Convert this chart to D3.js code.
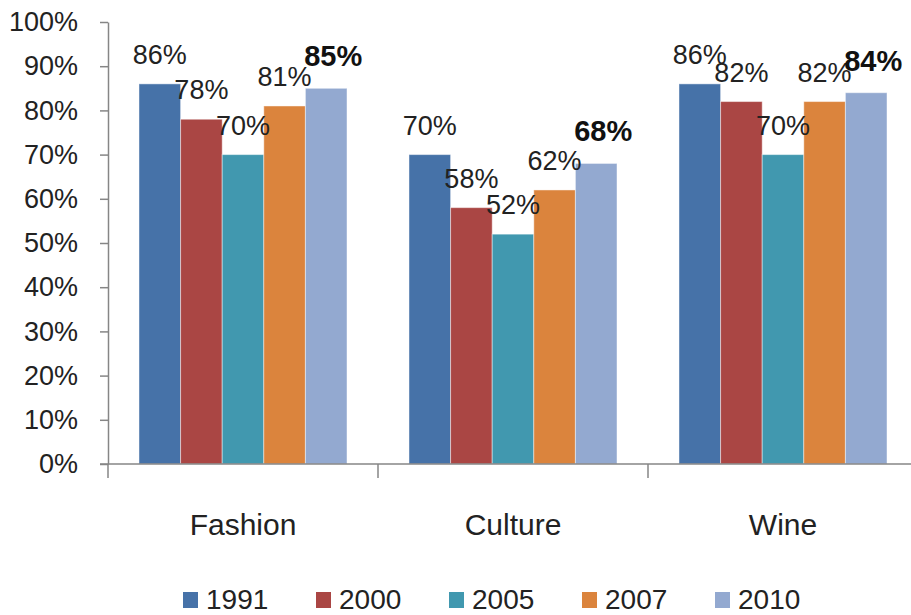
<!DOCTYPE html>
<meta charset="utf-8">
<head>
  <title>Fashion, Culture, Wine</title>
  <script src="https://d3js.org/d3.v7.min.js"></script>
  <style>
    body { margin: 0; background: #fff; font-family: "Liberation Sans", Arial, sans-serif; }
    .axis path, .axis line { stroke: #868686; stroke-width: 1.5; }
    .axis text { font-size: 27px; fill: #222; font-family: "Liberation Sans", Arial, sans-serif; }
    .axis text.clabel { font-size: 30px; fill: #222; }
    .label { font-size: 27px; fill: #222; }
    .label.bold { font-weight: bold; font-size: 29px; fill: #111; }
    .legend text { font-size: 28px; fill: #222; }
  </style>
</head>
<body>
<script>
  // Chart data
  var categories = ["Fashion", "Culture", "Wine"];
  var years = ["1991", "2000", "2005", "2007", "2010"];
  var values = {
    "Fashion": [0.86, 0.78, 0.70, 0.81, 0.85],
    "Culture": [0.70, 0.58, 0.52, 0.62, 0.68],
    "Wine":    [0.86, 0.82, 0.70, 0.82, 0.84]
  };
  var colors = ["#4672A8", "#AA4644", "#4198AF", "#DB843D", "#93A9D0"];
  var yTicks = [0, 0.1, 0.2, 0.3, 0.4, 0.5, 0.6, 0.7, 0.8, 0.9, 1.0];

  var width = 911, height = 615;
  var plotLeft = 108, plotRight = 918, plotTop = 22, plotBottom = 464;

  var svg = d3.select("body").append("svg")
    .attr("width", width)
    .attr("height", height);

  var x0 = d3.scaleBand()
    .domain(categories)
    .range([plotLeft, plotRight])
    .paddingInner(0.2296)
    .paddingOuter(0.1148);

  var x1 = d3.scaleBand()
    .domain(years)
    .range([0, x0.bandwidth()]);

  var y = d3.scaleLinear().domain([0, 1]).range([plotBottom, plotTop]);

  // y axis
  var yAxis = d3.axisLeft(y)
    .tickValues(yTicks)
    .tickFormat(d3.format(".0%"))
    .tickSize(8)
    .tickSizeOuter(0)
    .tickPadding(22);
  svg.append("g")
    .attr("class", "axis")
    .attr("transform", "translate(" + plotLeft + ",0)")
    .call(yAxis);

  // bars
  var groups = svg.append("g").selectAll("g")
    .data(categories)
    .enter().append("g")
    .attr("transform", function(c) { return "translate(" + x0(c) + ",0)"; });

  groups.selectAll("rect")
    .data(function(c) { return values[c].map(function(v, i) { return {year: years[i], v: v, i: i}; }); })
    .enter().append("rect")
    .attr("x", function(d) { return x1(d.year); })
    .attr("y", function(d) { return y(d.v); })
    .attr("width", x1.bandwidth())
    .attr("height", function(d) { return plotBottom - y(d.v); })
    .attr("fill", function(d) { return colors[d.i]; })
    .attr("stroke", "rgba(255,255,255,0.45)")
    .attr("stroke-width", 1);

  // value labels, last series in bold
  groups.selectAll("text")
    .data(function(c) { return values[c].map(function(v, i) { return {year: years[i], v: v, i: i}; }); })
    .enter().append("text")
    .attr("class", function(d) { return d.i === years.length - 1 ? "label bold" : "label"; })
    .attr("x", function(d) { return x1(d.year) + x1.bandwidth() / 2 + (d.i === years.length - 1 ? 7 : 0); })
    .attr("y", function(d) { return y(d.v) - (d.i === years.length - 1 ? 22 : 20); })
    .attr("text-anchor", "middle")
    .text(function(d) { return d3.format(".0%")(d.v); });

  // x axis
  var xAxis = svg.append("g").attr("class", "axis");
  xAxis.append("line")
    .attr("x1", plotLeft - 8).attr("x2", plotRight)
    .attr("y1", plotBottom).attr("y2", plotBottom);
  var step = x0.step();
  var bounds = categories.map(function(c) { return x0(c) - step * x0.paddingInner() / 2; });
  bounds.push(bounds[bounds.length - 1] + step);
  xAxis.selectAll(".ctick")
    .data(bounds)
    .enter().append("line")
    .attr("class", "ctick")
    .attr("x1", function(d) { return d; }).attr("x2", function(d) { return d; })
    .attr("y1", plotBottom).attr("y2", plotBottom + 14);
  xAxis.selectAll(".clabel")
    .data(categories)
    .enter().append("text")
    .attr("class", "clabel")
    .attr("x", function(c) { return x0(c) + x0.bandwidth() / 2; })
    .attr("y", plotBottom + 71)
    .attr("text-anchor", "middle")
    .text(function(c) { return c; });

  // legend
  var legend = svg.append("g").attr("class", "legend")
    .attr("transform", "translate(183,592)");
  var item = legend.selectAll("g")
    .data(years)
    .enter().append("g")
    .attr("transform", function(d, i) { return "translate(" + (i * 133) + ",0)"; });
  item.append("rect")
    .attr("width", 15).attr("height", 16)
    .attr("fill", function(d, i) { return colors[i]; });
  item.append("text")
    .attr("x", 23).attr("y", 17)
    .text(function(d) { return d; });
</script>
</body>
</html>
